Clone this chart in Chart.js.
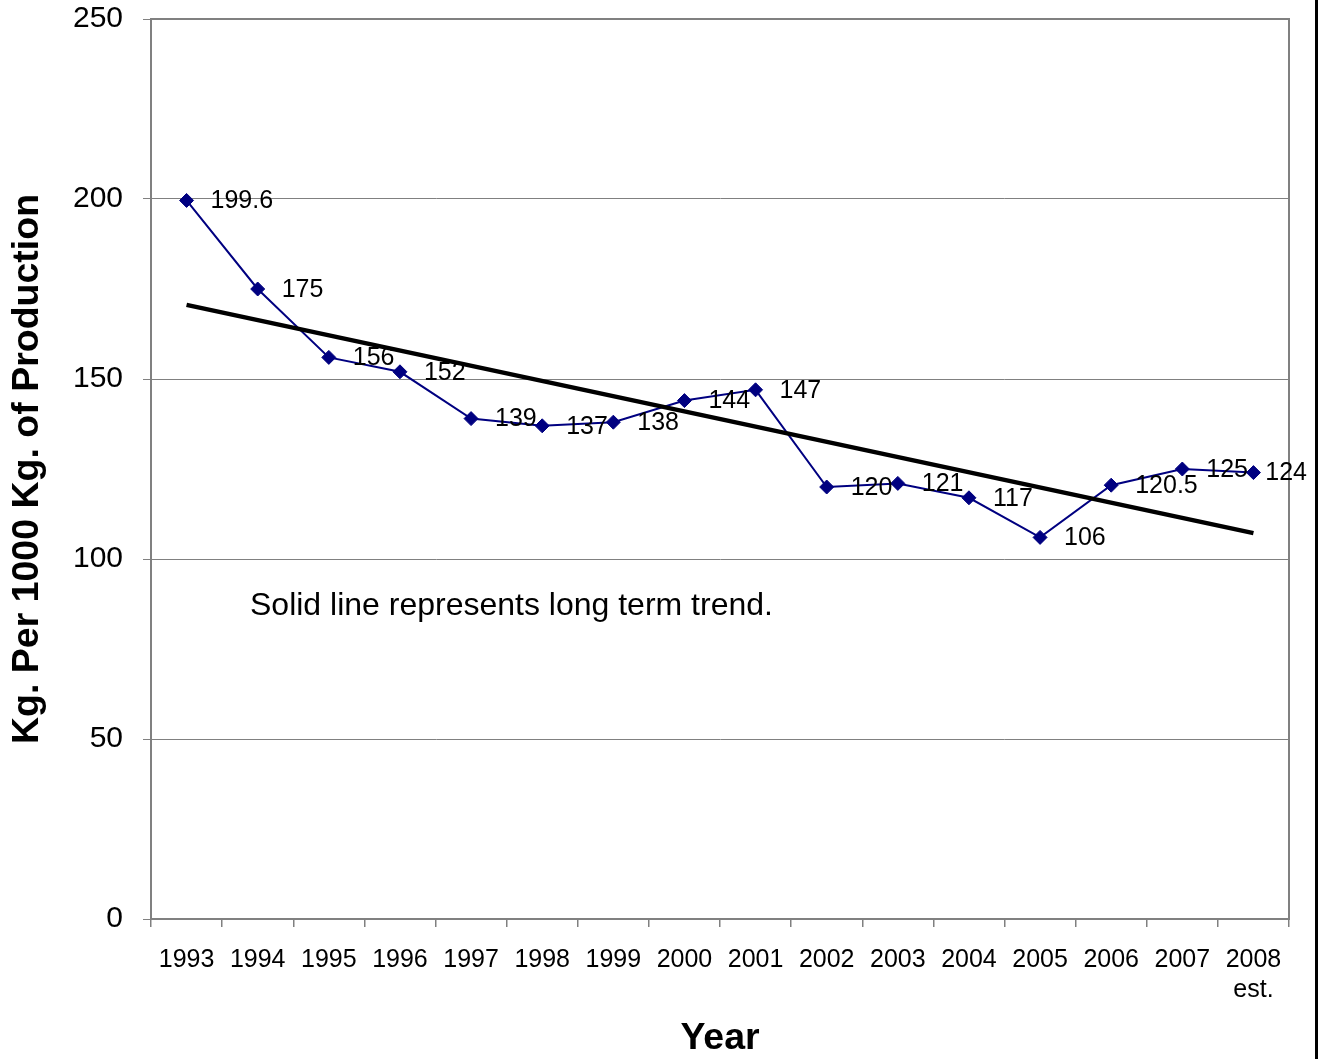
<!DOCTYPE html>
<html>
<head>
<meta charset="utf-8">
<title>Kg. Per 1000 Kg. of Production</title>
<script src="https://cdn.jsdelivr.net/npm/chart.js@4.4.1/dist/chart.umd.min.js"></script>
<style>
  html, body { margin: 0; padding: 0; background: #fff; }
  #wrap { width: 1315px; height: 1059px; border-right: 3px solid #000; }
  canvas { display: block; }
</style>
</head>
<body>
<div id="wrap"><canvas id="chart" width="1315" height="1059"></canvas></div>
<script>
// Years on the category axis (the last one is an estimate)
const years = ['1993', '1994', '1995', '1996', '1997', '1998', '1999', '2000',
               '2001', '2002', '2003', '2004', '2005', '2006', '2007', ['2008', 'est.']];

// Kg. per 1000 Kg. of production, one value per year
const usage = [199.6, 175, 156, 152, 139, 137, 138, 144, 147, 120, 121, 117, 106, 120.5, 125, 124];

// Long term trend line: values at the first and last year
const trendStart = 170.6;
const trendEnd = 107.2;

// Value axis ticks
const yTicks = [0, 50, 100, 150, 200, 250];

const noteText = 'Solid line represents long term trend.';
const noteValue = 87;

const FONT = '"Liberation Sans", Arial, Helvetica, sans-serif';
const GRID = '#808080';

// Trend series: only the end years carry a value, the line spans the gaps
const trendSeries = years.map((_, i) =>
  i === 0 ? trendStart : (i === years.length - 1 ? trendEnd : null));

// Gray frame around the plot area
const plotFrame = {
  id: 'plotFrame',
  beforeDatasetsDraw(chart) {
    const { ctx, chartArea: a } = chart;
    ctx.save();
    ctx.strokeStyle = GRID;
    ctx.lineWidth = 2;
    ctx.strokeRect(a.left, a.top, a.right - a.left, a.bottom - a.top);
    ctx.restore();
  }
};

// Number beside each point of the usage series
const valueLabels = {
  id: 'valueLabels',
  afterDatasetsDraw(chart) {
    const { ctx } = chart;
    const meta = chart.getDatasetMeta(1);
    ctx.save();
    ctx.font = '25px ' + FONT;
    ctx.fillStyle = '#000';
    ctx.textAlign = 'left';
    ctx.textBaseline = 'middle';
    meta.data.forEach((pt, i) => {
      const txt = String(usage[i]);
      const w = ctx.measureText(txt).width;
      const x = Math.min(pt.x + 24, chart.width - 8 - w);
      ctx.fillText(txt, x, pt.y + 1);
    });
    ctx.restore();
  }
};

// Explanatory note inside the plot
const noteLabel = {
  id: 'noteLabel',
  afterDraw(chart) {
    const { ctx, chartArea: a, scales } = chart;
    ctx.save();
    ctx.font = '32px ' + FONT;
    ctx.fillStyle = '#000';
    ctx.textAlign = 'left';
    ctx.textBaseline = 'middle';
    ctx.fillText(noteText, a.left + 99, scales.y.getPixelForValue(noteValue));
    ctx.restore();
  }
};

new Chart(document.getElementById('chart'), {
  type: 'line',
  data: {
    labels: years,
    datasets: [
      {
        label: 'Trend',
        data: trendSeries,
        spanGaps: true,
        borderColor: '#000',
        borderWidth: 4.5,
        pointRadius: 0,
        fill: false,
        tension: 0
      },
      {
        label: 'Kg. Per 1000 Kg.',
        data: usage,
        borderColor: '#000080',
        borderWidth: 2,
        pointStyle: 'rectRot',
        pointRadius: 7,
        pointBorderWidth: 1,
        pointBackgroundColor: '#000080',
        pointBorderColor: '#000080',
        fill: false,
        tension: 0
      }
    ]
  },
  options: {
    responsive: false,
    animation: false,
    events: [],
    layout: { padding: { left: 0, top: 19, right: 26, bottom: 0 } },
    plugins: {
      legend: { display: false },
      tooltip: { enabled: false }
    },
    scales: {
      x: {
        type: 'category',
        offset: true,
        grid: {
          offset: true,
          drawOnChartArea: false,
          drawTicks: true,
          tickLength: 8,
          color: GRID,
          lineWidth: 1.5
        },
        border: { color: GRID, width: 2 },
        ticks: {
          font: { family: FONT, size: 25 },
          color: '#000',
          padding: 18,
          maxRotation: 0,
          autoSkip: false
        },
        title: {
          display: true,
          text: 'Year',
          color: '#000',
          font: { family: FONT, size: 37.5, weight: 'bold', lineHeight: 1.1 },
          padding: { top: 0, bottom: 0 }
        },
        afterFit(scale) {
          scale.height = 140;
          scale.paddingLeft = 0;
          scale.paddingRight = 0;
        }
      },
      y: {
        min: 0,
        max: 250,
        afterBuildTicks(scale) { scale.ticks = yTicks.map(v => ({ value: v })); },
        grid: {
          color: GRID,
          lineWidth: 1,
          drawTicks: true,
          tickLength: 8
        },
        border: { color: GRID, width: 2 },
        ticks: {
          font: { family: FONT, size: 30 },
          color: '#000',
          padding: 20
        },
        title: {
          display: true,
          text: 'Kg. Per 1000 Kg. of Production',
          color: '#000',
          font: { family: FONT, size: 37.5, weight: 'bold' },
          padding: { top: 5, bottom: 0 }
        },
        afterFit(scale) {
          scale.width = 151;
          scale.paddingTop = 0;
          scale.paddingBottom = 0;
        }
      }
    }
  },
  plugins: [plotFrame, valueLabels, noteLabel]
});
</script>
</body>
</html>
